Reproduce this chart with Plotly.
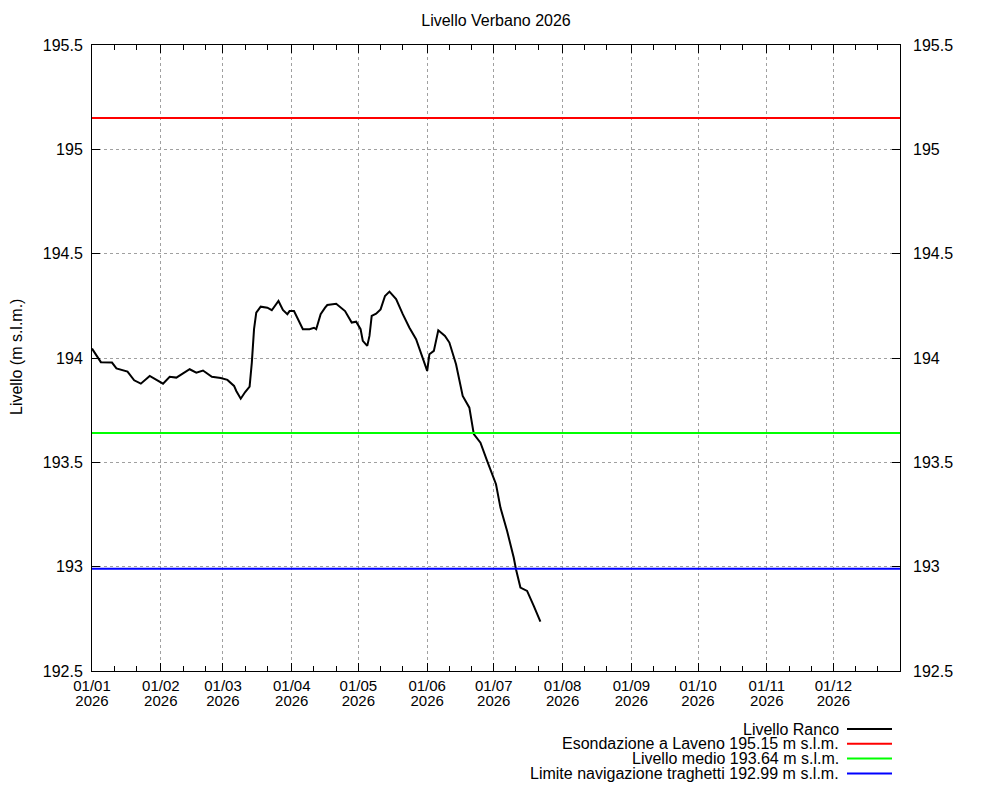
import plotly.graph_objects as go

# ---------------- data ----------------
dates = [
    "2026-01-01", "2026-01-05", "2026-01-10", "2026-01-12", "2026-01-17", "2026-01-20",
    "2026-01-23", "2026-01-27", "2026-02-02", "2026-02-05", "2026-02-08", "2026-02-14",
    "2026-02-17", "2026-02-20", "2026-02-24", "2026-02-28", "2026-03-03", "2026-03-06",
    "2026-03-07", "2026-03-09", "2026-03-11", "2026-03-13", "2026-03-14", "2026-03-15",
    "2026-03-16", "2026-03-18", "2026-03-21", "2026-03-23", "2026-03-26", "2026-03-28",
    "2026-03-30", "2026-03-31", "2026-04-02", "2026-04-04", "2026-04-06", "2026-04-09",
    "2026-04-11", "2026-04-12", "2026-04-14", "2026-04-16", "2026-04-17", "2026-04-21",
    "2026-04-25", "2026-04-28", "2026-04-30", "2026-05-02", "2026-05-03", "2026-05-05",
    "2026-05-06", "2026-05-07", "2026-05-09", "2026-05-11", "2026-05-13", "2026-05-15",
    "2026-05-18", "2026-05-21", "2026-05-24", "2026-05-27", "2026-05-30", "2026-06-01",
    "2026-06-02", "2026-06-04", "2026-06-06", "2026-06-09", "2026-06-11", "2026-06-14",
    "2026-06-17", "2026-06-20", "2026-06-22", "2026-06-25", "2026-06-28", "2026-07-02",
    "2026-07-04", "2026-07-07", "2026-07-10", "2026-07-11", "2026-07-13", "2026-07-16",
    "2026-07-19", "2026-07-22",
]
livello_ranco = [
    194.045, 193.980, 193.978, 193.950, 193.935, 193.893,
    193.877, 193.914, 193.877, 193.910, 193.906, 193.946,
    193.930, 193.940, 193.910, 193.904, 193.895, 193.866,
    193.842, 193.805, 193.837, 193.863, 193.978, 194.138,
    194.217, 194.246, 194.241, 194.229, 194.273, 194.230,
    194.210, 194.225, 194.225, 194.185, 194.138, 194.138,
    194.145, 194.138, 194.210, 194.241, 194.254, 194.260,
    194.225, 194.170, 194.174, 194.138, 194.082, 194.058,
    194.106, 194.202, 194.212, 194.233, 194.297, 194.318,
    194.282, 194.210, 194.145, 194.090, 193.994, 193.938,
    194.018, 194.034, 194.133, 194.106, 194.074, 193.970,
    193.818, 193.762, 193.635, 193.594, 193.507, 193.395,
    193.283, 193.171, 193.043, 192.988, 192.900, 192.884,
    192.812, 192.737,
]

year_span = ["2026-01-01", "2026-12-31"]
soglie_nomi = [
    "Esondazione a Laveno 195.15 m s.l.m.",
    "Livello medio 193.64 m s.l.m.",
    "Limite navigazione traghetti 192.99 m s.l.m.",
]
soglie_valori = [195.15, 193.64, 192.99]
soglie_colori = ["#ff0000", "#00ff00", "#0000ff"]

y_tickvals = [192.5, 193, 193.5, 194, 194.5, 195, 195.5]
y_ticktext = ["192.5", "193", "193.5", "194", "194.5", "195", "195.5"]

# ---------------- figure ----------------
FONT = "Liberation Sans, Arial, sans-serif"
fig = go.Figure()

fig.add_trace(go.Scatter(x=dates, y=livello_ranco, mode="lines",
                         name="Livello Ranco",
                         line=dict(color="black", width=2),
                         showlegend=False))
for nome, val, col in zip(soglie_nomi, soglie_valori, soglie_colori):
    fig.add_trace(go.Scatter(x=year_span, y=[val, val], mode="lines", name=nome,
                             line=dict(color=col, width=2), showlegend=False))

# invisible trace so the secondary axes (year labels, right labels) render
fig.add_trace(go.Scatter(x=[year_span[0]], y=[y_tickvals[0]], xaxis="x2", yaxis="y2",
                         mode="markers", marker=dict(opacity=0), hoverinfo="skip",
                         showlegend=False))

minor_vals = [f"2026-{m:02d}-{d}" for m in range(1, 13) for d in (11, 21)]

# the page body adds an 8px offset; the figure is sized so that it fills the window
OFF = 8
W, H = 1000 - OFF, 800 - OFF
L, T = 92 - OFF, 45 - OFF
R = W - (900 - OFF)
B = H - (671 - OFF)
pw, ph = W - L - R, H - T - B


def px(xr):
    return (xr - 92) / pw


def py(yr):
    return (671 - yr) / ph


fig.update_layout(
    width=W, height=H,
    margin=dict(l=L, r=R, t=T, b=B, autoexpand=False),
    paper_bgcolor="white", plot_bgcolor="white",
    font=dict(family=FONT, size=16, color="black"),
    title=dict(text="Livello Verbano 2026", x=px(496), xref="paper",
               xanchor="center", y=1 - (20 - OFF) / H, yref="container", yanchor="middle",
               font=dict(size=16)),
    xaxis=dict(
        type="date", range=year_span, automargin=False,
        tick0="2026-01-01", dtick="M1", tickformat="%d/%m",
        ticks="inside", ticklen=8, tickwidth=1, tickcolor="black",
        showline=True, linecolor="black", linewidth=1, mirror="allticks",
        showgrid=True, gridcolor="#a0a0a0", griddash="dot", gridwidth=1,
        zeroline=False, ticklabelstandoff=1,
        minor=dict(tickmode="array", tickvals=minor_vals, ticks="inside",
                   ticklen=5, tickwidth=1, tickcolor="black", showgrid=False),
        tickfont=dict(size=15),
    ),
    xaxis2=dict(
        type="date", overlaying="x", matches="x", side="bottom", automargin=False,
        tick0="2026-01-01", dtick="M1", tickformat="%Y",
        ticks="", showline=False, showgrid=False, zeroline=False,
        ticklabelstandoff=19, tickfont=dict(size=15),
    ),
    yaxis=dict(
        range=[192.5, 195.5], tickmode="array", tickvals=y_tickvals, ticktext=y_ticktext,
        automargin=False,
        ticks="inside", ticklen=8, tickwidth=1, tickcolor="black",
        showline=True, linecolor="black", linewidth=1, mirror="ticks",
        showgrid=True, gridcolor="#a0a0a0", griddash="dot", gridwidth=1,
        zeroline=False, tickfont=dict(size=16), ticklabelstandoff=5,
    ),
    yaxis2=dict(
        range=[192.5, 195.5], tickmode="array", tickvals=y_tickvals, ticktext=y_ticktext,
        overlaying="y", side="right", ticks="", showgrid=False, zeroline=False,
        showline=False, tickfont=dict(size=16), automargin=False, ticklabelstandoff=12,
    ),
)

# y-axis title (gnuplot places it at the far left edge)
fig.add_annotation(x=px(16), y=py(357), xref="paper", yref="paper",
                   xanchor="center", yanchor="middle", textangle=-90, showarrow=False,
                   borderpad=0, text="Livello (m s.l.m.)", font=dict(size=16, family=FONT))

# ---------------- legend (gnuplot style: text right, sample on the right) ----------------
leg_names = ["Livello Ranco"] + soglie_nomi
leg_cols = ["black"] + soglie_colori
row_px = [729, 743.8, 758.6, 773.4]
for nome, col, ypx in zip(leg_names, leg_cols, row_px):
    fig.add_annotation(x=px(841), y=py(ypx), xref="paper", yref="paper",
                       text=nome, showarrow=False, xanchor="right", yanchor="middle",
                       font=dict(size=16, family=FONT, color="black"))
    fig.add_shape(type="line", xref="paper", yref="paper",
                  x0=px(847), x1=px(892), y0=py(ypx), y1=py(ypx),
                  line=dict(color=col, width=2))

fig.write_html("out.html")
